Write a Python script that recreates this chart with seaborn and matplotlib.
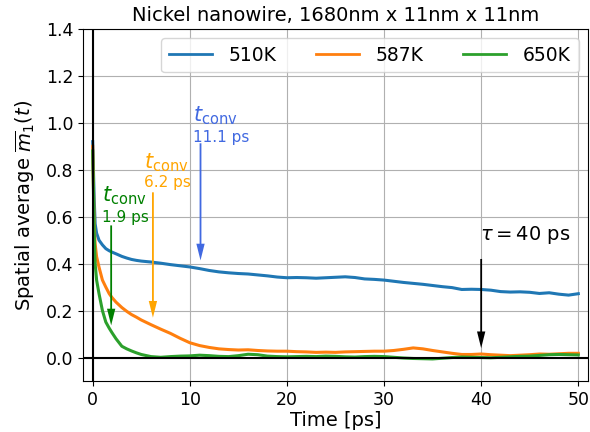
import numpy as np
import pandas as pd
import matplotlib
matplotlib.use("Agg")
import matplotlib.pyplot as plt
import seaborn as sns

# ---------------- data ----------------
time_ps = [0, 0.15, 0.25, 0.4, 0.65, 1.0, 1.35, 1.7, 2.0, 2.4, 3.0, 3.5, 4.0, 4.5, 5.0,
           6, 7, 8, 9, 10, 11, 12, 13, 14, 15, 16, 17, 18, 19, 20,
           21, 22, 23, 24, 25, 26, 27, 28, 29, 30,
           31, 32, 33, 34, 35, 36, 37, 38, 39, 40,
           41, 42, 43, 44, 45, 46, 47, 48, 49, 50]

m_510K = [0.92, 0.68, 0.57, 0.53, 0.50, 0.48, 0.464, 0.455, 0.449, 0.442, 0.431, 0.424, 0.418, 0.414, 0.411,
          0.407, 0.402, 0.396, 0.391, 0.386, 0.379, 0.371, 0.365, 0.361, 0.358, 0.356, 0.352, 0.348, 0.343, 0.340,
          0.341, 0.340, 0.338, 0.340, 0.342, 0.344, 0.341, 0.335, 0.333, 0.330,
          0.325, 0.320, 0.316, 0.312, 0.307, 0.302, 0.298, 0.290, 0.291, 0.290,
          0.287, 0.281, 0.279, 0.280, 0.278, 0.273, 0.276, 0.270, 0.266, 0.272]

m_587K = [0.90, 0.57, 0.485, 0.43, 0.385, 0.33, 0.30, 0.272, 0.255, 0.236, 0.213, 0.197, 0.183, 0.172, 0.160,
          0.140, 0.121, 0.103, 0.082, 0.063, 0.051, 0.043, 0.037, 0.034, 0.032, 0.033, 0.030, 0.028, 0.027, 0.027,
          0.025, 0.024, 0.022, 0.023, 0.022, 0.024, 0.025, 0.026, 0.027, 0.027,
          0.030, 0.035, 0.041, 0.037, 0.030, 0.024, 0.018, 0.013, 0.013, 0.015,
          0.012, 0.010, 0.008, 0.010, 0.012, 0.015, 0.014, 0.016, 0.018, 0.018]

m_650K = [0.88, 0.54, 0.40, 0.33, 0.272, 0.20, 0.151, 0.125, 0.105, 0.080, 0.048, 0.037, 0.028, 0.020, 0.013,
          0.004, 0.001, 0.004, 0.006, 0.007, 0.010, 0.008, 0.005, 0.004, 0.008, 0.014, 0.012, 0.006, 0.004, 0.003,
          0.004, 0.005, 0.004, 0.006, 0.005, 0.003, 0.002, 0.004, 0.005, 0.004,
          0.001, -0.002, -0.004, -0.005, -0.006, -0.003, 0.000, 0.002, 0.001, 0.000,
          -0.001, 0.001, 0.003, 0.005, 0.006, 0.009, 0.012, 0.013, 0.012, 0.011]

series_labels = ["510K", "587K", "650K"]
series_colors = ["#1f77b4", "#ff7f0e", "#2ca02c"]

# convergence-time annotations
conv_times = [11.1, 6.2, 1.9]
conv_labels = ["11.1 ps", "6.2 ps", "1.9 ps"]
conv_colors = ["royalblue", "orange", "green"]
conv_arrow_top = [0.913, 0.704, 0.563]
conv_arrow_tip = [0.414, 0.17, 0.137]
conv_text_x = [10.3, 5.3, 1.0]
conv_text_y = [1.005, 0.805, 0.664]
conv_num_y = [0.919, 0.727, 0.577]

tau_value = 40
tau_arrow_top = 0.42
tau_arrow_tip = 0.04

# ---------------- build table ----------------
frames = []
for lab, vals in zip(series_labels, [m_510K, m_587K, m_650K]):
    frames.append(pd.DataFrame({"t": time_ps, "m": vals, "T": lab}))
df = pd.concat(frames, ignore_index=True)

# ---------------- plot ----------------
fig = plt.figure(figsize=(5.9, 4.32), dpi=100)
ax = fig.add_axes([83 / 590, 51 / 432, 505 / 590, 352 / 432])

sns.lineplot(data=df, x="t", y="m", hue="T", palette=series_colors,
             estimator=None, linewidth=2.2, ax=ax, legend=False)

ax.axhline(0, color="black", lw=1.5)
ax.axvline(0, color="black", lw=1.5)

ax.set_xlim(-1, 51)
ax.set_ylim(-0.1, 1.4)
ax.set_xticks([0, 10, 20, 30, 40, 50])
ax.set_yticks([0.0, 0.2, 0.4, 0.6, 0.8, 1.0, 1.2, 1.4])
ax.set_yticklabels(["0.0", "0.2", "0.4", "0.6", "0.8", "1.0", "1.2", "1.4"])
ax.tick_params(labelsize=12.5)
ax.grid(True, color="#b0b0b0", lw=0.8)

ax.set_xlabel("Time [ps]", fontsize=14, labelpad=2)
ax.set_ylabel(r"Spatial average $\overline{m}_1(t)$", fontsize=14, labelpad=6)
ax.set_title("Nickel nanowire, 1680nm x 11nm x 11nm", fontsize=14, pad=6)

handles = [plt.Line2D([], [], color=c, lw=2) for c in series_colors]
ax.legend(handles, series_labels, loc="upper right", ncol=3, fontsize=13.5,
          handlelength=2.3, handletextpad=0.9, columnspacing=2.1)

arrow_kw = dict(width=1.3, headwidth=6, headlength=12, shrink=0, linewidth=0)
for x, lab, col, top, tip, tx, ty, ny in zip(conv_times, conv_labels, conv_colors,
                                             conv_arrow_top, conv_arrow_tip,
                                             conv_text_x, conv_text_y, conv_num_y):
    ax.annotate("", xy=(x, tip), xytext=(x, top),
                arrowprops=dict(facecolor=col, **arrow_kw))
    ax.text(tx, ty, r"$t_{\rm conv}$", color=col, fontsize=15, ha="left", va="baseline")
    ax.text(tx, ny, lab, color=col, fontsize=11, ha="left", va="baseline")

ax.annotate("", xy=(tau_value, tau_arrow_tip), xytext=(tau_value, tau_arrow_top),
            arrowprops=dict(facecolor="black", **arrow_kw))
ax.text(39.9, 0.502, r"$\tau = 40$ ps", color="black", fontsize=14, ha="left", va="baseline")

fig.savefig("out.png", dpi=100)
